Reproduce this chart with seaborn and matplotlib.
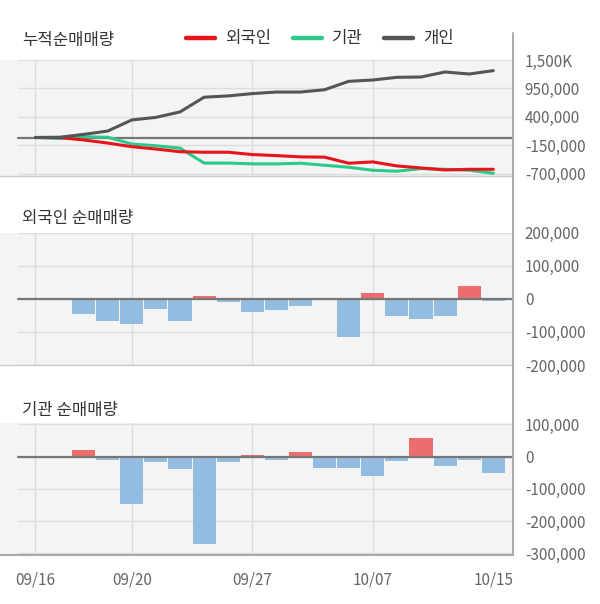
import matplotlib
matplotlib.use("Agg")
import matplotlib.pyplot as plt
from matplotlib.lines import Line2D
import seaborn as sns
import pandas as pd
import numpy as np

# trading days shown on the x axis
dates = ["09/16", "09/17", "09/18", "09/19", "09/20", "09/23", "09/24", "09/25",
         "09/26", "09/27", "09/30", "10/01", "10/02", "10/04", "10/07", "10/08",
         "10/10", "10/11", "10/14", "10/15"]
tick_dates = ["09/16", "09/20", "09/27", "10/07", "10/15"]
grid_dates = ["09/16", "09/20", "09/27", "10/07"]

# cumulative net buying (shares)
foreign_cum = [0, 0, -48000, -107000, -178000, -223000, -275000, -285000, -285000,
               -330000, -350000, -375000, -380000, -498000, -472000, -550000,
               -589000, -628000, -615000, -615000]
inst_cum = [0, -20000, 15000, 5000, -125000, -160000, -205000, -495000, -495000,
            -510000, -511000, -498000, -537000, -576000, -634000, -653000,
            -602000, -615000, -634000, -692000]
indiv_cum = [0, 5000, 60000, 125000, 340000, 390000, 495000, 780000, 805000,
             850000, 880000, 880000, 925000, 1087000, 1113000, 1165000,
             1171000, 1268000, 1229000, 1294000]

# daily net buying (shares)
foreign_daily = [0, 0, -45000, -66000, -75000, -30000, -66000, 8000, -10000,
                 -39000, -33000, -23000, 4000, -115000, 19000, -51000, -60000,
                 -51000, 38000, -6000]
inst_daily = [0, 0, 20000, -12000, -148000, -16000, -40000, -270000, -16000,
              5000, -10000, 14000, -34000, -34000, -61000, -13000, 59000,
              -28000, -10000, -52000]

cum_ticks = [-700000, -150000, 400000, 950000, 1500000]
cum_labels = ["-700,000", "-150,000", "400,000", "950,000", "1,500K"]
foreign_ticks = [-200000, -100000, 0, 100000, 200000]
foreign_labels = ["-200,000", "-100,000", "0", "100,000", "200,000"]
inst_ticks = [-300000, -200000, -100000, 0, 100000]
inst_labels = ["-300,000", "-200,000", "-100,000", "0", "100,000"]

sns.set_theme(style="white")
plt.rcParams["font.family"] = ["Noto Sans CJK KR", "DejaVu Sans"]

W, H = 600, 604
fig = plt.figure(figsize=(6, 6.04), dpi=100)

BG = "#F4F4F4"
GRID = "#DDDDDD"
TXT = "#666666"
colors = {"외국인": "#E8141A", "기관": "#2BC98A", "개인": "#555555"}
x0_px, step_px, right_px = 35.4, 24.1, 513
xlim = (-x0_px / step_px, (right_px - x0_px) / step_px)
grid_left = (18 - x0_px) / step_px


def make_ax(top, bottom):
    ax = fig.add_axes([0, 1 - bottom / H, right_px / W, (bottom - top) / H])
    ax.set_facecolor(BG)
    return ax


def style_ax(ax, ticks, labels, ylim, bottom_color="#CCCCCC", bottom_lw=1.0):
    ax.set_xlim(*xlim)
    ax.set_ylim(*ylim)
    for s in ["top", "left", "right"]:
        ax.spines[s].set_visible(False)
    ax.spines["bottom"].set_color(bottom_color)
    ax.spines["bottom"].set_linewidth(bottom_lw)
    ax.hlines(ticks, grid_left, xlim[1], color=GRID, lw=1, zorder=0.5)
    for d in grid_dates:
        ax.axvline(dates.index(d), color=GRID, lw=1, zorder=0.5)
    ax.axhline(0, xmin=(18 / right_px), xmax=1, color="#777777", lw=1.6, zorder=3)
    ax.yaxis.tick_right()
    ax.set_yticks(ticks)
    ax.set_yticklabels(labels)
    ax.tick_params(axis="y", length=0, pad=8.5, labelsize=11, labelcolor=TXT)
    ax.set_xlabel("")
    ax.set_ylabel("")


# --- cumulative lines
ax1 = make_ax(60, 176)
cum = pd.DataFrame({"idx": list(range(len(dates))) * 3,
                    "value": inst_cum + foreign_cum + indiv_cum,
                    "who": ["기관"] * len(dates) + ["외국인"] * len(dates) + ["개인"] * len(dates)})
sns.lineplot(data=cum, x="idx", y="value", hue="who", palette=colors,
             hue_order=["기관", "외국인", "개인"], lw=2.2, legend=False, ax=ax1, zorder=4)
style_ax(ax1, cum_ticks, cum_labels, (-745000, 1500000))
ax1.set_xticks([])


# --- daily bars
def bar_panel(ax, values):
    df = pd.DataFrame({"date": dates, "value": values,
                       "sign": ["pos" if v > 0 else "neg" for v in values]})
    sns.barplot(data=df, x="date", y="value", hue="sign", order=dates,
                palette={"pos": "#EB6D6D", "neg": "#92BDE0"}, dodge=False,
                saturation=1, width=0.96, linewidth=0, legend=False, ax=ax, zorder=2)


ax2 = make_ax(232.7, 365)
bar_panel(ax2, foreign_daily)
style_ax(ax2, foreign_ticks, foreign_labels, (-200000, 200000))
ax2.set_xticks([])

ax3 = make_ax(422.7, 555)
bar_panel(ax3, inst_daily)
style_ax(ax3, inst_ticks, inst_labels, (-305000, 105000), "#AAAAAA", 1.5)
ax3.set_xticks([dates.index(d) for d in tick_dates])
ax3.set_xticklabels(tick_dates)
ax3.tick_params(axis="x", length=0, pad=12, labelsize=11, labelcolor=TXT)

# right-hand vertical rule
fig.add_artist(Line2D([right_px / W, right_px / W], [1 - 33 / H, 1 - 555 / H],
                      color="#AAAAAA", lw=1.4, transform=fig.transFigure))

# titles
for ttl, y in [("누적순매매량", 40), ("외국인 순매매량", 218), ("기관 순매매량", 410)]:
    fig.text(22 / W, 1 - y / H, ttl, fontsize=12, color="#333333", va="center", ha="left")

# legend
handles = [Line2D([], [], color=colors[k], lw=3.2) for k in ["외국인", "기관", "개인"]]
fig.legend(handles, ["외국인", "기관", "개인"], loc="center", ncol=3,
           bbox_to_anchor=(320 / W, 1 - 39 / H), frameon=False, fontsize=12,
           handlelength=1.75, handletextpad=0.6, columnspacing=1.3,
           labelcolor="#333333")

fig.savefig("out.png", dpi=100, facecolor="white")
